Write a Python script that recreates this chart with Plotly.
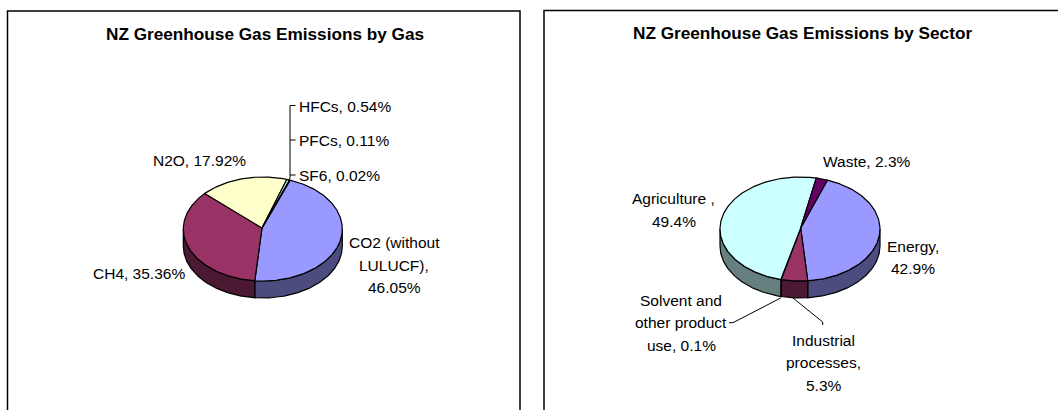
import numpy as np
import plotly.graph_objects as go

# ---- data ----
gas_names = ["CO2 (without LULUCF)", "CH4", "N2O", "HFCs", "PFCs", "SF6"]
gas_values = [46.05, 35.36, 17.92, 0.54, 0.11, 0.02]
gas_colors = ["#9999FF", "#993366", "#FFFFCC", "#CCFFFF", "#660066", "#FF8080"]

sector_names = ["Energy", "Industrial processes", "Solvent and other product use", "Agriculture", "Waste"]
sector_values = [42.9, 5.3, 0.1, 49.4, 2.3]
sector_colors = ["#9999FF", "#993366", "#FFFFCC", "#CCFFFF", "#660066"]

gas_title = "NZ Greenhouse Gas Emissions by Gas"
sector_title = "NZ Greenhouse Gas Emissions by Sector"

# ---- layout (pixel coordinates of the page) ----
W, H = 1058, 410
FONT = "Liberation Sans"
START = 20.0
DEPTH = 17


def dark(c, f=0.5):
    return "#%02x%02x%02x" % tuple(int(int(c[i:i + 2], 16) * f) for i in (1, 3, 5))


def arc(cx, cy, rx, ry, a0, a1):
    n = max(2, int(abs(a1 - a0) * 1.5) + 2)
    t = np.radians(np.linspace(a0, a1, n))
    return cx + rx * np.sin(t), cy - ry * np.cos(t)


def pie3d(fig, names, values, colors, cx, cy, rx, ry, ax, ay):
    total = sum(values)
    edges = START + np.cumsum([0] + list(values)) / total * 360
    spans = list(zip(edges[:-1], edges[1:]))
    # outer wall: only the front half of the disc shows depth
    for name, col, (a0, a1) in zip(names, colors, spans):
        for shift in (0, 360):
            lo, hi = max(a0, 90 + shift), min(a1, 270 + shift)
            if hi <= lo:
                continue
            x1, y1 = arc(cx, cy, rx, ry, lo, hi)
            xs = list(x1) + list(x1[::-1]) + [x1[0]]
            ys = list(y1) + list((y1 + DEPTH)[::-1]) + [y1[0]]
            fig.add_trace(go.Scatter(x=xs, y=ys, mode="lines", fill="toself", fillcolor=dark(col),
                                     line=dict(color="black", width=1.2), name=name,
                                     hoverinfo="skip", showlegend=False))
    # top face
    for name, val, col, (a0, a1) in zip(names, values, colors, spans):
        x1, y1 = arc(cx, cy, rx, ry, a0, a1)
        xs = [ax] + list(x1) + [ax]
        ys = [ay] + list(y1) + [ay]
        fig.add_trace(go.Scatter(x=xs, y=ys, mode="lines", fill="toself", fillcolor=col,
                                 line=dict(color="black", width=1.2), name=name,
                                 text=f"{name}, {val}%", hoverinfo="text", showlegend=False))


fig = go.Figure()
pie3d(fig, gas_names, gas_values, gas_colors, 262.8, 229, 79.5, 52, 262, 228)
pie3d(fig, sector_names, sector_values, sector_colors, 800, 229, 80, 52, 800.7, 228)

# leader lines
leaders = [
    ([295.5, 290, 290, 288], [105.5, 105.5, 178, 181]),
    ([295.5, 290], [140, 140]),
    ([295.5, 290], [175, 175]),
    ([780.7, 733, 729], [298, 322.7, 322.7]),
    ([793, 822.7, 822.7], [298, 322, 325]),
]
for lx, ly in leaders:
    fig.add_trace(go.Scatter(x=lx, y=ly, mode="lines", line=dict(color="black", width=1),
                             hoverinfo="skip", showlegend=False))

# (text, x, y, anchor)
labels = [
    ("HFCs, 0.54%", 296.5, 106, "left"),
    ("PFCs, 0.11%", 296.5, 140, "left"),
    ("SF6, 0.02%", 296.5, 175, "left"),
    ("N2O, 17.92%", 199, 160, "center"),
    ("CO2 (without", 394, 242, "center"),
    ("LULUCF),", 394, 265, "center"),
    ("46.05%", 394, 287, "center"),
    ("CH4, 35.36%", 138.5, 273, "center"),
    ("Waste, 2.3%", 867, 161, "center"),
    ("Agriculture ,", 673.5, 198.5, "center"),
    ("49.4%", 673.5, 221, "center"),
    ("Energy,", 913, 246, "center"),
    ("42.9%", 913, 268, "center"),
    ("Solvent and", 681, 300.5, "center"),
    ("other product", 681, 322.5, "center"),
    ("use, 0.1%", 681, 345.5, "center"),
    ("Industrial", 823.5, 340, "center"),
    ("processes,", 823.5, 362, "center"),
    ("5.3%", 823.5, 385, "center"),
]
annotations = [dict(x=x, y=y, text=t, xref="x", yref="y", xanchor=a, yanchor="middle", showarrow=False,
                    font=dict(family=FONT, size=15.5, color="black")) for t, x, y, a in labels]
for t, x, y in [(gas_title, 264.5, 34), (sector_title, 802.5, 33)]:
    annotations.append(dict(x=x, y=y, text=f"<b>{t}</b>", xref="x", yref="y", xanchor="center", yanchor="middle",
                            showarrow=False, font=dict(family=FONT, size=17.2, color="black")))

border = dict(color="black", width=1.5)
shapes = [
    dict(type="rect", xref="x", yref="y", x0=7.5, y0=11, x1=520, y1=H + 10, line=border, layer="below"),
    dict(type="rect", xref="x", yref="y", x0=544, y0=10.5, x1=W + 10, y1=H + 10, line=border, layer="below"),
]

hidden = dict(visible=False, fixedrange=True)
fig.update_layout(
    width=W, height=H, margin=dict(l=0, r=0, t=0, b=0),
    paper_bgcolor="white", plot_bgcolor="white", showlegend=False,
    xaxis=dict(range=[0, W], **hidden), yaxis=dict(range=[H, 0], **hidden),
    annotations=annotations, shapes=shapes,
)
fig.write_html("out.html", config=dict(displayModeBar=False),
               post_script="document.body.style.margin='0';document.body.style.overflow='hidden';")
